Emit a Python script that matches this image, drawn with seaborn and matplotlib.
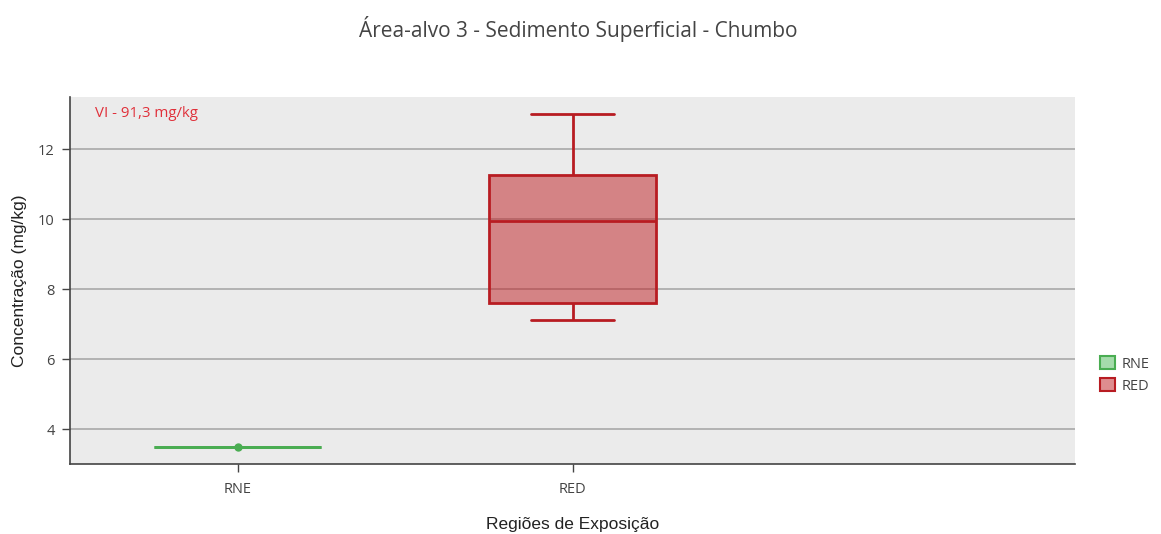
import numpy as np
import pandas as pd
import matplotlib
matplotlib.use("Agg")
import matplotlib.pyplot as plt
import seaborn as sns
from matplotlib.patches import Patch

# ---- data ----
categories = ["RNE", "RED", " "]
rne_values = [3.5]
red_values = [7.12, 7.6, 9.94, 11.27, 13.0]
yticks = [4, 6, 8, 10, 12]
title = "Área-alvo 3 - Sedimento Superficial - Chumbo"
xlabel = "Regiões de Exposição"
ylabel = "Concentração (mg/kg)"
annotation = "VI - 91,3 mg/kg"

df = pd.DataFrame({
    "regiao": ["RNE"] * len(rne_values) + ["RED"] * len(red_values),
    "valor": rne_values + red_values,
})

green_edge = "#4aad52"
green_fill = (0.30, 0.72, 0.35, 0.5)
red_edge = "#b81c22"
red_fill = (0.75, 0.11, 0.13, 0.5)

sns.set_theme(style="white")
plt.rcParams["font.family"] = ["Open Sans", "DejaVu Sans"]

fig = plt.figure(figsize=(11.61, 5.34), dpi=100)
ax = fig.add_axes([70 / 1161, 1 - 464 / 534, (1075 - 70) / 1161, (464 - 97) / 534])
ax.set_facecolor("#ebebeb")

for cat, edge, fill in [("RNE", green_edge, green_fill), ("RED", red_edge, red_fill)]:
    sub = df[df["regiao"] == cat]
    n_before = len(ax.patches)
    sns.boxplot(data=sub, x="regiao", y="valor", order=categories, width=0.5,
                color=edge, linecolor=edge, linewidth=2, fliersize=0,
                whis=10, ax=ax, zorder=3)
    for p in ax.patches[n_before:]:
        p.set_facecolor(fill)
        p.set_edgecolor(edge)

sns.stripplot(data=df[df["regiao"] == "RNE"], x="regiao", y="valor", order=categories,
              jitter=False, color=green_edge, size=6, ax=ax, zorder=4)

ax.set_xlim(-0.5, 2.5)
ax.set_ylim(3.0, 13.5)
ax.set_xticks([0, 1])
ax.set_xticklabels(categories[:2], fontsize=10.5, color="#444444")
ax.set_yticks(yticks)
ax.set_yticklabels([str(t) for t in yticks], fontsize=10.5, color="#444444")
ax.yaxis.grid(True, color="#a8a8a8", linewidth=1.2, zorder=0)
ax.xaxis.grid(False)
ax.set_axisbelow(True)
ax.tick_params(axis="both", which="both", direction="out", length=6, width=1,
               color="#444444", left=True, bottom=True, pad=5)
ax.tick_params(axis="x", pad=7)

for side in ["top", "right"]:
    ax.spines[side].set_visible(False)
for side in ["left", "bottom"]:
    ax.spines[side].set_color("#444444")
    ax.spines[side].set_linewidth(1.2)

ax.set_xlabel(xlabel, fontsize=12.5, family=["Liberation Sans", "DejaVu Sans"],
              color="#222222", labelpad=14)
ax.set_ylabel(ylabel, fontsize=12.5, family=["Liberation Sans", "DejaVu Sans"],
              color="#222222", labelpad=8)

fig.suptitle(title, x=578 / 1161, y=1 - 29 / 534, va="center", fontsize=15,
             color="#444444")

ax.text(0.025, 0.955, annotation, transform=ax.transAxes, color="#e0303a",
        fontsize=10.8, va="center", ha="left")

handles = [Patch(facecolor=green_fill, edgecolor=green_edge, linewidth=1.5, label="RNE"),
           Patch(facecolor=red_fill, edgecolor=red_edge, linewidth=1.5, label="RED")]
leg = fig.legend(handles=handles, loc="upper left",
                 bbox_to_anchor=(1087 / 1161, 1 - 343 / 534), frameon=False,
                 fontsize=10.5, handlelength=1.0, handleheight=1.0,
                 handletextpad=0.45, labelspacing=0.45)
for t in leg.get_texts():
    t.set_color("#444444")

fig.savefig("out.png", dpi=100, facecolor="white")
